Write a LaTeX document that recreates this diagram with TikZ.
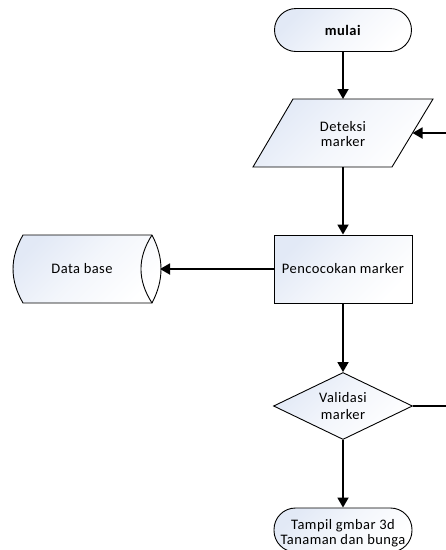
\documentclass[tikz,border=0pt]{standalone}
\usepackage{fontspec}
\setmainfont[LetterSpace=3]{Carlito}
\usetikzlibrary{shapes.geometric,arrows.meta}
\definecolor{fillc}{RGB}{226,233,246}
\begin{document}
\begin{tikzpicture}[x=1pt,y=-1pt,
  font=\fontsize{14.5}{15.5}\selectfont,
  shapefill/.style={top color=fillc, bottom color=white, middle color=white!60!fillc, shading angle=45, draw=black, line width=0.9pt},
  term/.style={shapefill, rounded corners=21.5pt, minimum width=137pt, minimum height=43pt, inner sep=0pt, align=center},
  procbox/.style={shapefill, rounded corners=0pt, minimum width=138pt, minimum height=68pt, inner sep=0pt, align=center},
  decis/.style={shapefill, diamond, aspect=2.07, minimum width=139pt, minimum height=67pt, inner sep=0pt, align=center},
  arr/.style={line width=1.8pt, -{Triangle[length=10pt,width=11pt]}},
  plainline/.style={line width=1.8pt}]
\useasboundingbox (0,0) rectangle (446,550);
\clip (0,0) rectangle (446,550);

% start
\node[term] (mulai) at (343,30) {\textbf{mulai}};

% parallelogram (input/output)
\path[shapefill] (293,99) -- (433,99) -- (392,167) -- (253,167) -- cycle;
\node[align=center] (det) at (343,134) {Deteksi\\marker};
\coordinate (detT) at (343,99);
\coordinate (detB) at (343,167);
\coordinate (detE) at (412.5,133);

% process
\node[procbox] (pen) at (343,269) {Pencocokan marker};

% stored data
\path[shapefill] (23,235) -- (152,235) .. controls (164,258) and (164,280) .. (152,303)
  -- (23,303) .. controls (9.7,280) and (9.7,258) .. (23,235) -- cycle;
\draw[line width=0.9pt] (152,235) .. controls (137.3,258) and (137.3,280) .. (152,303);
\node (db) at (82,269) {Data base};
\coordinate (dbE) at (160,269);

% decision
\node[decis] (val) at (343,406) {Validasi\\[1pt]marker};

% end terminator
\node[term, minimum width=138pt, minimum height=44pt] (tam) at (343,530) {};
\node[align=center] (tamtext) at (343,533) {Tampil gmbar 3d\\Tanaman dan bunga};

% free ends at right edge
\coordinate (rin) at (446,133);
\coordinate (vout) at (446,406);

% connectors
\draw[arr] (mulai.south) -- (detT);
\draw[arr] (rin) -- (detE);
\draw[arr] (detB) -- (pen.north);
\draw[arr] (pen.west) -- (dbE);
\draw[arr] (pen.south) -- (val.north);
\draw[plainline] (val.east) -- (vout);
\draw[arr] (val.south) -- (tam.north);
\end{tikzpicture}
\end{document}
